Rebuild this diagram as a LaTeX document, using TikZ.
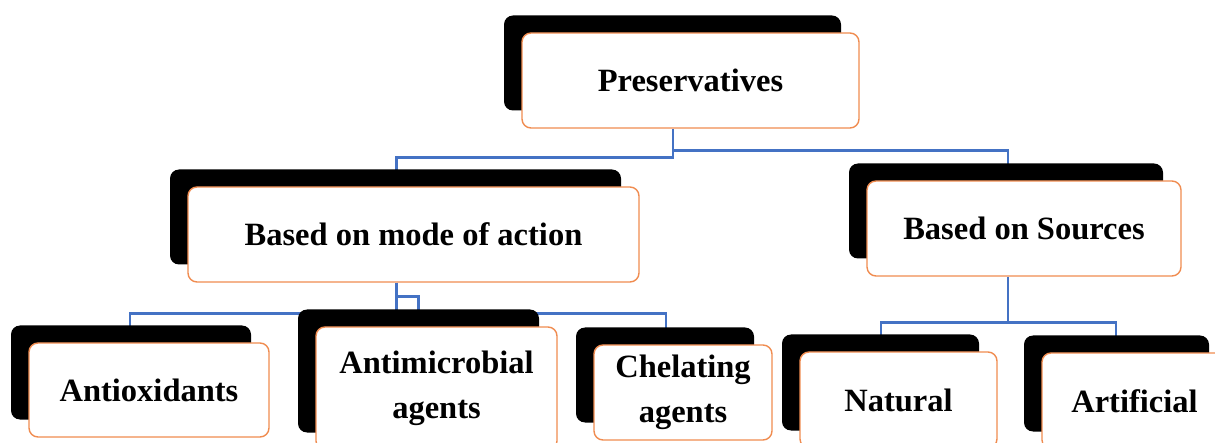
\documentclass[tikz,border=0pt]{standalone}
\usepackage{fontspec}
\setmainfont{Liberation Serif}
\usepackage{xcolor}
\usetikzlibrary{shadows,backgrounds}

\definecolor{boxline}{RGB}{240,140,80}
\definecolor{linkblue}{RGB}{68,114,196}

\begin{document}
\begin{tikzpicture}[x=1pt,y=-1pt,
  box/.style={rectangle, rounded corners=9pt, draw=boxline, line width=1.4pt, fill=white,
    align=center, inner sep=0pt, font=\bfseries\fontsize{32.5}{45}\selectfont,
    drop shadow={shadow xshift=-18pt, shadow yshift=17.5pt, fill=black, opacity=1}},
  link/.style={draw=linkblue, line width=2.6pt}]
  % keep the page at the size of the picture
  \useasboundingbox (0,0) rectangle (1215,443);

  % top of the tree
  \node[box, minimum width=337pt, minimum height=95pt] (pres) at (690.5,80.5) {Preservatives};

  % second row
  \node[box, minimum width=451pt, minimum height=95pt] (moa) at (413.5,234.5) {Based on mode of action};
  \node[box, minimum width=314pt, minimum height=95pt] (src) at (1024,228.5) {Based on Sources};

  % bottom row
  \node[box, minimum width=240pt, minimum height=94pt] (antiox) at (149,390) {Antioxidants};
  \node[box, minimum width=241pt, minimum height=123pt] (antimic) at (436.5,388.5) {Antimicrobial\\agents};
  \node[box, minimum width=178pt, minimum height=95pt] (chel) at (683,392.5) {Chelating\\agents};
  \node[box, minimum width=197pt, minimum height=96pt] (nat) at (898.5,400) {Natural};
  \node[box, minimum width=185pt, minimum height=96pt] (art) at (1134.5,401) {Artificial};

  % connectors go behind the boxes
  \begin{scope}[on background layer]
    \draw[link] ([xshift=-17.5pt]pres.south) -- ++(0,29) -| ([xshift=-17pt]moa.north);
    \draw[link] ([xshift=-17.5pt]pres.south) ++(0,22) -| ([xshift=-16pt]src.north);

    \draw[link] ([xshift=-17pt]moa.south) -- ++(0,31) -| ([xshift=-19pt]antiox.north);
    \draw[link] ([xshift=-17pt]moa.south) -- ([xshift=-40pt]antimic.north);
    \draw[link] ([xshift=-17pt]moa.south) ++(0,14) -- ++(22,0) -- ++(0,17) -| ([xshift=-17pt]chel.north);

    \draw[link] ([xshift=-16pt]src.south) -- ++(0,46) -| ([xshift=-17.5pt]nat.north);
    \draw[link] ([xshift=-16pt]src.south) ++(0,46) -| ([xshift=-18.5pt]art.north);
  \end{scope}
\end{tikzpicture}
\end{document}
